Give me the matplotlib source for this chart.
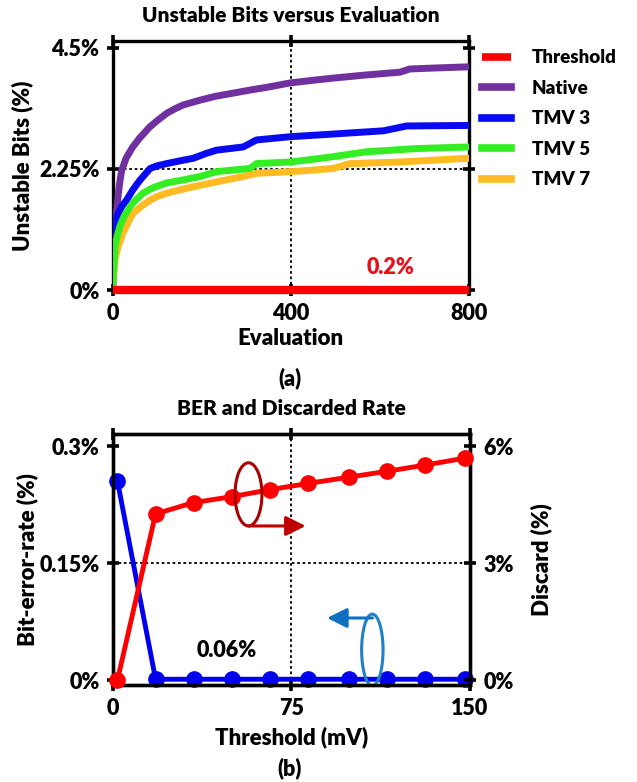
import matplotlib
matplotlib.use("Agg")
import matplotlib.pyplot as plt
from matplotlib.patches import Ellipse, FancyArrowPatch

plt.rcParams["font.family"] = ["Lato", "DejaVu Sans"]
plt.rcParams["font.weight"] = "bold"

# ---- (a) unstable bits versus evaluation ----
native_x = [0, 3, 6, 10, 15, 20, 30, 45, 60, 83, 100, 122, 140, 158, 196, 230, 270,
            310, 347, 398, 450, 495, 571, 645, 667, 730, 800]
native_y = [0.05, 0.60, 1.10, 1.60, 1.95, 2.22, 2.45, 2.66, 2.82, 3.03, 3.15, 3.29, 3.37,
            3.44, 3.53, 3.60, 3.66, 3.72, 3.77, 3.85, 3.90, 3.94, 4.00, 4.05, 4.11, 4.13, 4.15]
tmv3_x = [0, 4, 9, 20, 31, 45, 61, 84, 100, 121, 150, 181, 210, 233, 293, 323, 360,
          398, 495, 608, 660, 800]
tmv3_y = [0.05, 0.90, 1.36, 1.55, 1.67, 1.86, 2.04, 2.26, 2.31, 2.35, 2.40, 2.45, 2.54,
          2.60, 2.66, 2.79, 2.82, 2.85, 2.90, 2.96, 3.05, 3.06]
tmv5_x = [0, 5, 10, 16, 25, 39, 50, 68, 90, 121, 160, 196, 233, 270, 308, 323, 398,
          450, 495, 570, 683, 800]
tmv5_y = [0.05, 0.80, 1.00, 1.18, 1.36, 1.55, 1.66, 1.80, 1.90, 1.99, 2.05, 2.11, 2.20,
          2.23, 2.26, 2.35, 2.38, 2.43, 2.48, 2.57, 2.63, 2.66]
tmv7_x = [0, 5, 12, 23, 35, 46, 65, 84, 100, 121, 150, 181, 233, 293, 323, 398, 450,
          495, 533, 645, 800]
tmv7_y = [0.05, 0.56, 0.80, 1.06, 1.26, 1.43, 1.56, 1.67, 1.74, 1.80, 1.86, 1.92, 2.01,
          2.11, 2.17, 2.20, 2.23, 2.26, 2.35, 2.38, 2.45]
thresh_x = [0, 800]
thresh_y = [0.0, 0.0]
a_xticks = [0, 400, 800]
a_yticks = [0, 2.25, 4.5]
a_yticklabels = ["0%", "2.25%", "4.5%"]

# ---- (b) BER and discarded rate ----
thr_mv = [2, 18, 34, 50, 66, 82, 99, 115, 131, 148]
ber = [0.255, 0.001, 0.001, 0.001, 0.001, 0.001, 0.001, 0.001, 0.001, 0.001]
discard = [0.0, 4.26, 4.55, 4.70, 4.88, 5.04, 5.20, 5.35, 5.51, 5.69]
b_xticks = [0, 75, 150]
b_yticks = [0, 0.15, 0.3]
b_yticklabels = ["0%", "0.15%", "0.3%"]
d_yticks = [0, 3, 6]
d_yticklabels = ["0%", "3%", "6%"]

W, H = 637, 782
fig = plt.figure(figsize=(W / 100, H / 100), dpi=100)

FW = "heavy"
TICK = 15.5
LAB = 16


def box(l, t, r, b):
    return [l / W, 1 - b / H, (r - l) / W, (b - t) / H]


def style_axes(ax):
    for s in ax.spines.values():
        s.set_linewidth(2.4)
        s.set_color("black")
    ax.tick_params(direction="inout", length=9, width=2.6, top=True, right=True,
                   pad=5)


tick_font = dict(fontsize=TICK, fontweight=FW)
dot = (0, (1.5, 1.5))

# panel (a)
ax1 = fig.add_axes(box(112.7, 41, 469, 290))
ax1.plot(native_x, native_y, color="#7030A0", lw=5, label="Native", zorder=3)
ax1.plot(tmv3_x, tmv3_y, color="#0A0AF0", lw=5, label="TMV 3", zorder=4)
ax1.plot(tmv5_x, tmv5_y, color="#33EE22", lw=5, label="TMV 5", zorder=5)
ax1.plot(tmv7_x, tmv7_y, color="#FFBB22", lw=5, label="TMV 7", zorder=4.5)
ax1.plot(thresh_x, thresh_y, color="#FF0000", lw=6, label="Threshold",
         zorder=6, clip_on=False, solid_capstyle="butt")
ax1.set_xlim(0, 800)
ax1.set_ylim(0, 4.63)
ax1.set_xticks(a_xticks)
ax1.set_xticklabels([str(v) for v in a_xticks], **tick_font)
ax1.set_yticks(a_yticks)
ax1.set_yticklabels(a_yticklabels, **tick_font)
style_axes(ax1)
ax1.tick_params(labelright=False, labeltop=False)
ax1.axvline(400, color="black", lw=1.3, ls=dot, zorder=1)
ax1.axhline(2.25, color="black", lw=1.3, ls=dot, zorder=1)
ax1.set_title("Unstable Bits versus Evaluation", fontsize=15, fontweight=FW, pad=14)
ax1.set_xlabel("Evaluation", fontsize=LAB, fontweight=FW, labelpad=3)
ax1.set_ylabel("Unstable Bits (%)", fontsize=LAB, fontweight=FW, labelpad=4)
ax1.text(623, 0.42, "0.2%", color="#E8101A", fontsize=TICK, fontweight=FW,
         ha="center", va="center")
handles, labels = ax1.get_legend_handles_labels()
order = [labels.index(n) for n in ["Threshold", "Native", "TMV 3", "TMV 5", "TMV 7"]]
leg = ax1.legend([handles[i] for i in order], [labels[i] for i in order],
                 loc="upper left", bbox_to_anchor=(1.0, 1.02), frameon=False,
                 prop=dict(size=13.5, weight=FW), handlelength=1.55,
                 handletextpad=1.1, labelspacing=0.72, borderaxespad=0.3)
for ln in leg.get_lines():
    ln.set_linewidth(5.5)
fig.text(290 / W, 1 - 378 / H, "(a)", ha="center", va="center",
         fontsize=TICK, fontweight=FW)

# panel (b)
ax2 = fig.add_axes(box(112.7, 434, 470, 685))
ax2.plot(thr_mv, ber, color="#0000EE", lw=3.5, marker="o", ms=11, zorder=3,
         clip_on=False)
ax2.set_xlim(0, 150)
ax2.set_ylim(-0.0064, 0.3154)
ax2.set_xticks(b_xticks)
ax2.set_xticklabels([str(v) for v in b_xticks], **tick_font)
ax2.set_yticks(b_yticks)
ax2.set_yticklabels(b_yticklabels, **tick_font)
style_axes(ax2)
ax2.tick_params(labelright=False, labeltop=False)
ax2.axvline(75, color="black", lw=1.3, ls=dot, zorder=1)
ax2.axhline(0.15, color="black", lw=1.3, ls=dot, zorder=1)
ax2.set_title("BER and Discarded Rate", fontsize=15, fontweight=FW, pad=14)
ax2.set_xlabel("Threshold (mV)", fontsize=LAB, fontweight=FW, labelpad=5)
ax2.set_ylabel("Bit-error-rate (%)", fontsize=LAB, fontweight=FW, labelpad=1)

ax3 = ax2.twinx()
ax3.plot(thr_mv, discard, color="#FF0000", lw=3.5, marker="o", ms=11, zorder=3,
         clip_on=False)
ax3.set_ylim(-0.128, 6.308)
ax3.set_yticks(d_yticks)
ax3.set_yticklabels(d_yticklabels, **tick_font)
for s in ax3.spines.values():
    s.set_linewidth(2.4)
ax3.tick_params(direction="inout", length=9, width=2.6, pad=5)
ax3.set_ylabel("Discard (%)", fontsize=LAB, fontweight=FW, labelpad=12)

ax2.text(48, 0.038, "0.06%", fontsize=TICK, fontweight=FW, ha="center",
         va="center", zorder=5)

# ellipse + arrow markers linking each curve to its axis
ax3.add_patch(Ellipse((57, 4.76), 11.3, 1.62, fill=False, ec="#A80000", lw=2.2, zorder=6))
ax3.add_patch(FancyArrowPatch((57, 3.95), (81, 3.95), arrowstyle="-|>",
                              mutation_scale=30, color="#C00000", lw=2.2, zorder=6,
                              shrinkA=0, shrinkB=0))
ax2.add_patch(Ellipse((109, 0.0385), 9, 0.092, fill=False, ec="#1F80C8", lw=2.2, zorder=6))
ax2.add_patch(FancyArrowPatch((109, 0.0795), (90, 0.0795), arrowstyle="-|>",
                              mutation_scale=30, color="#1070C0", lw=2.2, zorder=6,
                              shrinkA=0, shrinkB=0))
fig.text(290 / W, 1 - 768 / H, "(b)", ha="center", va="center",
         fontsize=TICK, fontweight=FW)

fig.savefig("out.png", dpi=100, facecolor="white")
